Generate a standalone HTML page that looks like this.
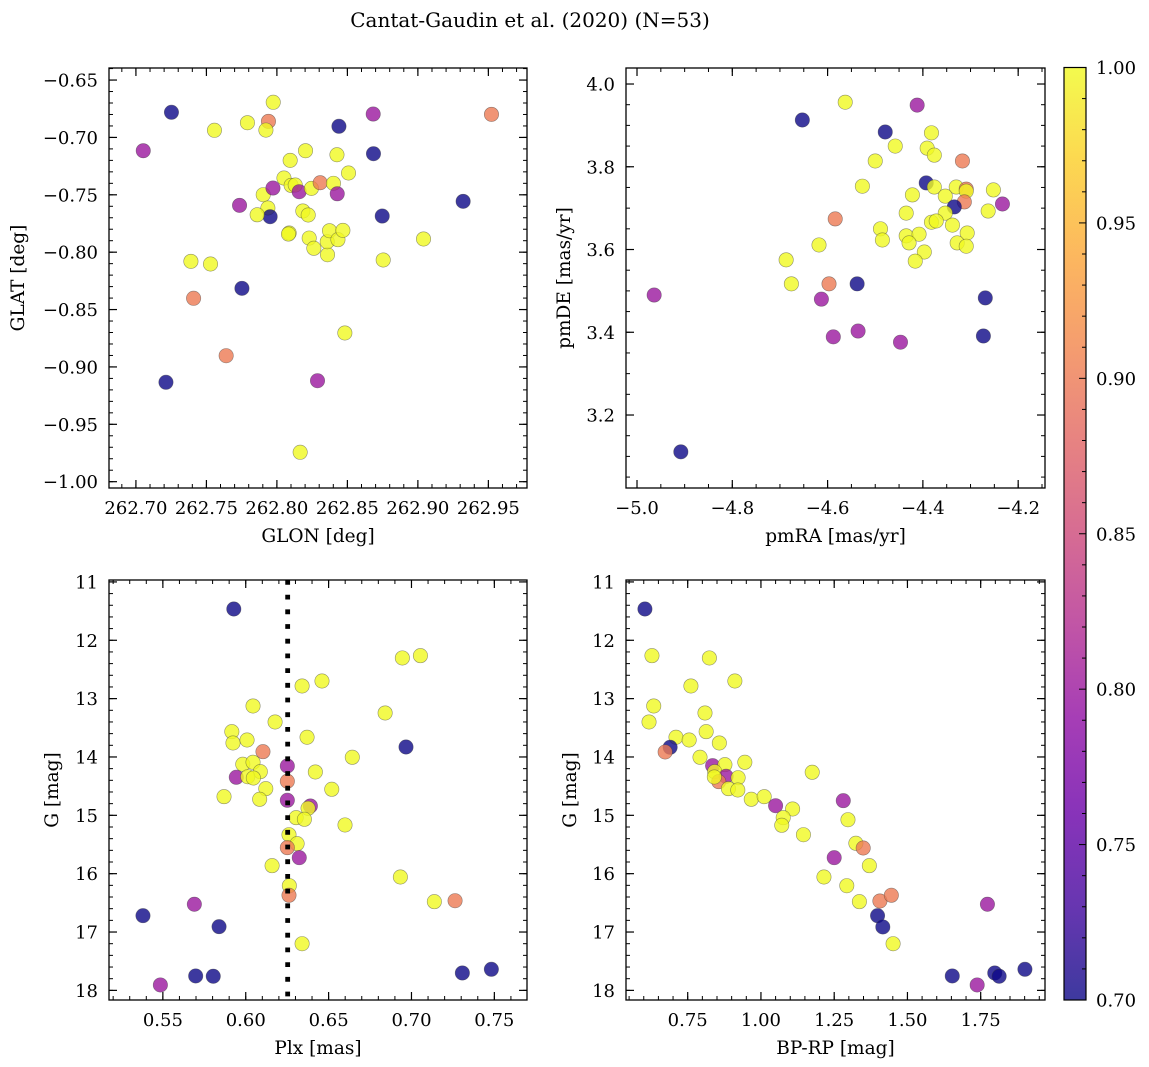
<!DOCTYPE html>
<html><head><meta charset="utf-8"><style>
html,body{margin:0;padding:0;background:#fff;}
svg{display:block;font-family:"DejaVu Serif","Liberation Serif",serif;}
</style></head><body>
<svg id="fig" width="1149" height="1067" viewBox="0 0 1149 1067" xmlns="http://www.w3.org/2000/svg">
<defs><linearGradient id="plasmaGrad" x1="0" y1="1" x2="0" y2="0">
<stop offset="0" stop-color="#0d0887"/><stop offset="0.1" stop-color="#41049d"/><stop offset="0.2" stop-color="#6a00a8"/><stop offset="0.3" stop-color="#8f0da4"/><stop offset="0.4" stop-color="#b12a90"/><stop offset="0.5" stop-color="#cc4778"/><stop offset="0.6" stop-color="#e16462"/><stop offset="0.7" stop-color="#f2844b"/><stop offset="0.8" stop-color="#fca636"/><stop offset="0.9" stop-color="#fcce25"/><stop offset="1" stop-color="#f0f921"/>
</linearGradient></defs>
<text x="530" y="27" font-size="20" text-anchor="middle">Cantat-Gaudin et al. (2020) (N=53)</text>
</svg>
<script>
// ---- data ----
const tlGlon=[262.7052,262.7252,262.7213,262.7390,262.7529,262.7409,262.7557,262.7640,262.7735,262.7752,262.7791,262.7940,262.7922,262.7974,262.7903,262.7972,262.7936,262.7952,262.7860,262.8087,262.8082,262.8050,262.8094,262.8101,262.8130,262.8158,262.8203,262.8184,262.8222,262.8229,262.8245,262.8262,262.8165,262.8307,262.8288,262.8359,262.8357,262.8373,262.8401,262.8426,262.8428,262.8433,262.8440,262.8468,262.8482,262.8508,262.8683,262.8685,262.8747,262.8754,262.9040,262.9321,262.9522];
const tlGlat=[-0.7116,-0.6781,-0.9134,-0.8080,-0.8103,-0.8402,-0.6938,-0.8902,-0.7592,-0.8315,-0.6872,-0.6860,-0.6936,-0.6694,-0.7499,-0.7441,-0.7615,-0.7691,-0.7674,-0.7833,-0.7842,-0.7354,-0.7200,-0.7418,-0.7415,-0.7473,-0.7116,-0.7641,-0.7676,-0.7877,-0.7444,-0.7966,-0.9744,-0.7395,-0.9120,-0.8022,-0.7909,-0.7813,-0.7400,-0.7151,-0.7491,-0.7891,-0.6903,-0.7810,-0.8704,-0.7310,-0.6796,-0.7142,-0.7685,-0.8068,-0.7885,-0.7557,-0.6799];
const tlProb=[0.8,0.7,0.7,1,1,0.9,1,0.9,0.8,0.7,1,0.9,1,1,1,0.8,1,0.7,1,1,1,1,1,1,1,0.8,1,1,1,1,1,1,1,0.9,0.8,1,1,1,1,1,0.8,1,0.7,1,1,1,0.8,0.7,0.7,1,1,0.7,0.9];

const trPmra=[-4.964,-4.908,-4.653,-4.563,-4.412,-4.479,-4.382,-4.458,-4.391,-4.376,-4.500,-4.317,-4.527,-4.393,-4.376,-4.330,-4.309,-4.309,-4.252,-4.422,-4.353,-4.313,-4.334,-4.233,-4.584,-4.435,-4.353,-4.263,-4.382,-4.372,-4.338,-4.489,-4.485,-4.435,-4.408,-4.429,-4.307,-4.328,-4.309,-4.618,-4.397,-4.416,-4.687,-4.676,-4.597,-4.538,-4.613,-4.269,-4.588,-4.536,-4.447,-4.273];
const trPmde=[3.490,3.111,3.913,3.956,3.949,3.884,3.882,3.850,3.845,3.828,3.814,3.814,3.753,3.761,3.751,3.751,3.746,3.741,3.744,3.732,3.729,3.715,3.703,3.710,3.674,3.688,3.688,3.693,3.666,3.669,3.659,3.650,3.623,3.633,3.637,3.616,3.640,3.616,3.608,3.611,3.594,3.572,3.575,3.517,3.517,3.517,3.480,3.483,3.389,3.403,3.376,3.391];
const trProb=[0.8,0.7,0.7,1,0.8,0.7,1,1,1,1,1,0.9,1,0.7,1,1,0.9,1,1,1,1,0.9,0.7,0.8,0.9,1,1,1,1,1,1,1,1,1,1,1,1,1,1,1,1,1,1,1,0.9,0.7,0.8,0.7,0.8,0.8,0.8,0.7];

const blPlx=[0.5928,0.6945,0.7054,0.6340,0.6460,0.6044,0.6841,0.6177,0.5916,0.5923,0.6008,0.6370,0.6967,0.6104,0.6643,0.5982,0.6044,0.6088,0.6251,0.5943,0.6012,0.6046,0.6420,0.6251,0.6121,0.6519,0.5869,0.6084,0.6251,0.6390,0.6376,0.6304,0.6354,0.6599,0.6261,0.6310,0.6251,0.6323,0.6159,0.6933,0.6263,0.6261,0.7138,0.7263,0.5690,0.5380,0.5839,0.6340,0.5698,0.5804,0.7307,0.7482,0.5485];
const blG=[11.464,12.303,12.264,12.783,12.698,13.126,13.246,13.400,13.566,13.760,13.709,13.662,13.829,13.909,14.005,14.125,14.091,14.252,14.154,14.348,14.338,14.360,14.257,14.416,14.543,14.554,14.680,14.725,14.742,14.840,14.879,15.040,15.068,15.165,15.332,15.486,15.554,15.726,15.863,16.057,16.206,16.370,16.480,16.463,16.524,16.720,16.908,17.200,17.753,17.758,17.702,17.639,17.907];
const blProb=[0.7,1,1,1,1,1,1,1,1,1,1,1,0.7,0.9,1,1,1,1,0.8,0.8,1,1,1,0.9,1,1,1,1,0.8,0.8,1,1,1,1,1,1,0.9,0.8,1,1,1,0.9,1,0.9,0.8,0.7,0.7,1,0.7,0.7,0.7,0.7,0.8];
const plxMean=[0.6253];

const brColor=[0.604,0.628,0.824,0.761,0.911,0.634,0.809,0.618,0.710,0.690,0.673,0.755,0.813,0.858,0.792,0.835,0.877,0.945,0.842,0.881,0.856,0.841,0.922,1.175,0.889,0.921,0.967,1.011,1.050,1.108,1.076,1.071,1.145,1.281,1.297,1.324,1.349,1.250,1.370,1.215,1.293,1.406,1.445,1.336,1.398,1.416,1.451,1.773,1.653,1.738,1.798,1.813,1.901];
const brG=[11.464,12.264,12.303,12.783,12.698,13.126,13.246,13.400,13.662,13.834,13.914,13.709,13.566,13.760,14.005,14.149,14.132,14.091,14.252,14.331,14.423,14.343,14.355,14.262,14.543,14.566,14.725,14.680,14.835,14.891,15.040,15.171,15.332,14.749,15.075,15.479,15.560,15.726,15.863,16.057,16.206,16.468,16.370,16.480,16.720,16.913,17.200,16.524,17.753,17.907,17.702,17.758,17.639];
const brProb=[0.7,1,1,1,1,1,1,1,1,0.7,0.9,1,1,1,1,0.8,1,1,1,0.8,0.9,1,1,1,1,1,1,1,0.8,1,1,1,1,0.8,1,1,0.9,0.8,1,1,1,0.9,0.9,1,0.7,0.7,1,0.8,0.7,0.8,0.7,0.7,0.7];

const tlXTicks=[262.70,262.75,262.80,262.85,262.90,262.95];
const tlXLabels=['262.70','262.75','262.80','262.85','262.90','262.95'];
const tlYTicks=[-0.65,-0.70,-0.75,-0.80,-0.85,-0.90,-0.95,-1.00];
const tlYLabels=['\u22120.65','\u22120.70','\u22120.75','\u22120.80','\u22120.85','\u22120.90','\u22120.95','\u22121.00'];
const trXTicks=[-5.0,-4.8,-4.6,-4.4,-4.2];
const trXLabels=['\u22125.0','\u22124.8','\u22124.6','\u22124.4','\u22124.2'];
const trYTicks=[3.2,3.4,3.6,3.8,4.0];
const trYLabels=['3.2','3.4','3.6','3.8','4.0'];
const blXTicks=[0.55,0.60,0.65,0.70,0.75];
const blXLabels=['0.55','0.60','0.65','0.70','0.75'];
const gTicks=[11,12,13,14,15,16,17,18];
const gLabels=['11','12','13','14','15','16','17','18'];
const brXTicks=[0.75,1.00,1.25,1.50,1.75];
const brXLabels=['0.75','1.00','1.25','1.50','1.75'];
const cbTicks=[0.70,0.75,0.80,0.85,0.90,0.95,1.00];
const cbLabels=['0.70','0.75','0.80','0.85','0.90','0.95','1.00'];

// ---- rendering ----
const NS='http://www.w3.org/2000/svg';
const svg=document.getElementById('fig');
function mk(tag,attrs,parent){const e=document.createElementNS(NS,tag);for(const k in attrs)e.setAttribute(k,attrs[k]);(parent||svg).appendChild(e);return e;}

const stops=[[0,[13,8,135]],[0.1,[65,4,157]],[0.2,[106,0,168]],[0.3,[143,13,164]],[0.4,[177,42,144]],[0.5,[204,71,120]],[0.6,[225,100,98]],[0.7,[242,132,75]],[0.8,[252,166,54]],[0.9,[252,206,37]],[1,[240,249,33]]];
function plasma(v){let t=(v-0.7)/0.3;t=Math.max(0,Math.min(1,t));
 for(let i=0;i<stops.length-1;i++){const a=stops[i],b=stops[i+1];if(t<=b[0]){const f=(t-a[0])/(b[0]-a[0]);const c=a[1].map((x,j)=>Math.round(x+(b[1][j]-x)*f));return 'rgb('+c.join(',')+')';}}
 return 'rgb(240,249,33)';}

function panel(cfg){
 const g=mk('g',{});
 
 
 const sx=v=>cfg.x0+(v-cfg.xmin)/(cfg.xmax-cfg.xmin)*(cfg.x1-cfg.x0);
 const sy=v=>cfg.y0+(v-cfg.ymax)/(cfg.ymin-cfg.ymax)*(cfg.y1-cfg.y0);
 const eps=1e-9;
 for(let v=Math.ceil(cfg.xmin/cfg.xminor-eps)*cfg.xminor;v<=cfg.xmax+eps;v+=cfg.xminor){const x=sx(v);
  mk('line',{x1:x,x2:x,y1:cfg.y1,y2:cfg.y1-4,stroke:'#000','stroke-width':1},g);
  mk('line',{x1:x,x2:x,y1:cfg.y0,y2:cfg.y0+4,stroke:'#000','stroke-width':1},g);}
 const ylo=Math.min(cfg.ymin,cfg.ymax),yhi=Math.max(cfg.ymin,cfg.ymax);
 for(let v=Math.ceil(ylo/cfg.yminor-eps)*cfg.yminor;v<=yhi+eps;v+=cfg.yminor){const y=sy(v);
  mk('line',{x1:cfg.x0,x2:cfg.x0+4,y1:y,y2:y,stroke:'#000','stroke-width':1},g);
  mk('line',{x1:cfg.x1,x2:cfg.x1-4,y1:y,y2:y,stroke:'#000','stroke-width':1},g);}
 cfg.xt.forEach((v,i)=>{const x=sx(v);
  mk('line',{x1:x,x2:x,y1:cfg.y1,y2:cfg.y1-8,stroke:'#000','stroke-width':1.2},g);
  mk('line',{x1:x,x2:x,y1:cfg.y0,y2:cfg.y0+8,stroke:'#000','stroke-width':1.2},g);
  const t=mk('text',{x:x,y:cfg.y1+26,'font-size':18,'text-anchor':'middle'},g);t.textContent=cfg.xl[i];
  
  });
 cfg.yt.forEach((v,i)=>{const y=sy(v);
  mk('line',{x1:cfg.x0,x2:cfg.x0+8,y1:y,y2:y,stroke:'#000','stroke-width':1.2},g);
  mk('line',{x1:cfg.x1,x2:cfg.x1-8,y1:y,y2:y,stroke:'#000','stroke-width':1.2},g);
  const t=mk('text',{x:cfg.x0-11,y:y+6.5,'font-size':18,'text-anchor':'end'},g);t.textContent=cfg.yl[i];
  
  });
 cfg.xs.forEach((xv,i)=>{
  const c=mk('circle',{cx:sx(xv),cy:sy(cfg.ys[i]),r:7.2,fill:plasma(cfg.ps[i]),'fill-opacity':0.8,stroke:'rgba(60,60,60,0.55)','stroke-width':0.6},g);
  
  });
 if(cfg.vline){cfg.vline.forEach(v=>{const x=sx(v);
  const l=mk('line',{x1:x,x2:x,y1:cfg.y0,y2:cfg.y1,stroke:'#000','stroke-width':4.8,'stroke-dasharray':'4.8 9.9'},g);
  
  });}
 const fr=mk('rect',{x:cfg.x0,y:cfg.y0,width:cfg.x1-cfg.x0,height:cfg.y1-cfg.y0,fill:'none',stroke:'#000','stroke-width':1.3},g);
 
 
 const xlab=mk('text',{x:(cfg.x0+cfg.x1)/2,y:cfg.y1+54,'font-size':18.5,'text-anchor':'middle'},g);xlab.textContent=cfg.xlabel;
 
 
 const cy=(cfg.y0+cfg.y1)/2;
 const ylab=mk('text',{x:cfg.ylx,y:cy,'font-size':18.5,'text-anchor':'middle',transform:'rotate(-90 '+cfg.ylx+' '+cy+')'},g);ylab.textContent=cfg.ylabel;
 
 
}

panel({name:'glon-glat-panel',x0:109,x1:527,y0:68,y1:488,xmin:262.6809,xmax:262.9774,ymin:-1.0055,ymax:-0.6395,xminor:0.01,yminor:0.01,
 xt:tlXTicks,xl:tlXLabels,yt:tlYTicks,yl:tlYLabels,xs:tlGlon,ys:tlGlat,ps:tlProb,xlabel:'GLON [deg]',ylabel:'GLAT [deg]',ylx:24});
panel({name:'proper-motion-panel',x0:626,x1:1045,y0:68,y1:488,xmin:-5.0231,xmax:-4.1437,ymin:3.0236,ymax:4.0387,xminor:0.05,yminor:0.05,
 xt:trXTicks,xl:trXLabels,yt:trYTicks,yl:trYLabels,xs:trPmra,ys:trPmde,ps:trProb,xlabel:'pmRA [mas/yr]',ylabel:'pmDE [mas/yr]',ylx:570});
panel({name:'parallax-magnitude-panel',x0:109,x1:527,y0:580,y1:1000,xmin:0.5175,xmax:0.7697,ymin:18.165,ymax:10.967,xminor:0.01,yminor:0.2,
 xt:blXTicks,xl:blXLabels,yt:gTicks,yl:gLabels,xs:blPlx,ys:blG,ps:blProb,vline:plxMean,xlabel:'Plx [mas]',ylabel:'G [mag]',ylx:58});
panel({name:'color-magnitude-panel',x0:626,x1:1045,y0:580,y1:1000,xmin:0.5394,xmax:1.9695,ymin:18.165,ymax:10.967,xminor:0.05,yminor:0.2,
 xt:brXTicks,xl:brXLabels,yt:gTicks,yl:gLabels,xs:brColor,ys:brG,ps:brProb,xlabel:'BP-RP [mag]',ylabel:'G [mag]',ylx:576});

// colorbar
const cb=mk('g',{});


const cbY0=67.5,cbY1=1000,cbX0=1064,cbX1=1086;
const cby=v=>cbY1-(v-0.7)/0.3*(cbY1-cbY0);
mk('rect',{x:cbX0,y:cbY0,width:cbX1-cbX0,height:cbY1-cbY0,fill:'url(#plasmaGrad)','fill-opacity':0.8,stroke:'none'},cb);
mk('rect',{x:cbX0,y:cbY0,width:cbX1-cbX0,height:cbY1-cbY0,fill:'none',stroke:'#000','stroke-width':1.2},cb);
for(let k=1;k<30;k++){const y=cby(0.7+k*0.01);
 mk('line',{x1:cbX1,x2:cbX1-(k%5===0?7:4),y1:y,y2:y,stroke:'#000','stroke-width':1},cb);}
cbTicks.forEach((v,i)=>{const t=mk('text',{x:1096,y:cby(v)+6.5,'font-size':18},cb);t.textContent=cbLabels[i];
 
 });
</script>
</body></html>
